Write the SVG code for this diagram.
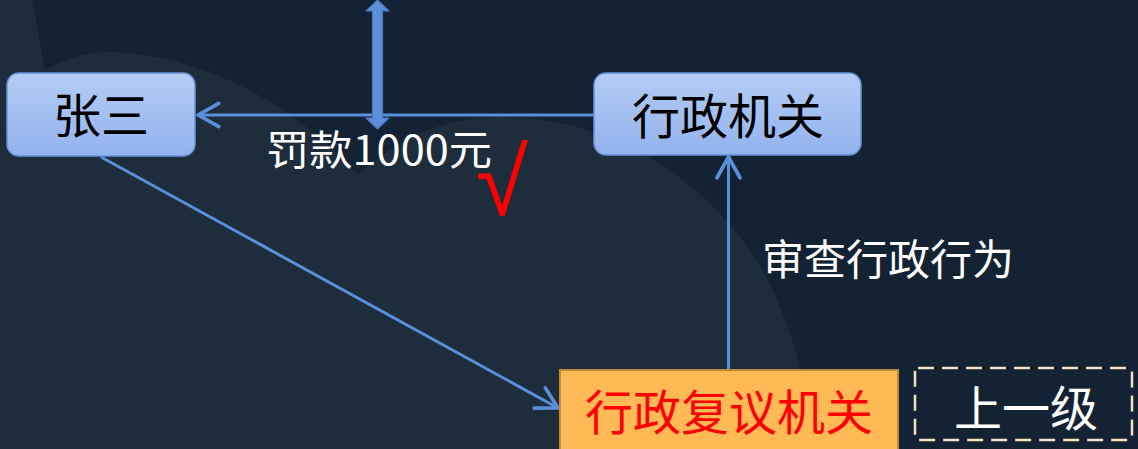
<svg xmlns="http://www.w3.org/2000/svg" width="1138" height="449" viewBox="0 0 1138 449">
<defs>
<style>
.cjk{font-family:"Noto Sans CJK SC","Noto Sans",sans-serif;}
.node rect.blue{fill:url(#gBlue);stroke:#6892d8;stroke-width:1.5;}
.lbl{fill:#ffffff;}
.conn{fill:none;stroke:#5a8fdc;stroke-width:3;}
</style>
<linearGradient id="gBlue" x1="0" y1="0" x2="0" y2="1">
<stop offset="0" stop-color="#b4ccf5"/>
<stop offset="1" stop-color="#93b3ee"/>
</linearGradient>
<marker id="arr" markerUnits="userSpaceOnUse" markerWidth="30" markerHeight="30" viewBox="-22 -13 26 26" refX="0" refY="0" orient="auto">
<path d="M-18,-10 L0,0 L-18,10" fill="none" stroke="#5a8fdc" stroke-width="3.2" stroke-linecap="round" stroke-linejoin="round"/>
</marker>
</defs>
<rect x="0" y="0" width="1138" height="449" fill="#132333"/>
<path d="M0,0 L32,0 C37,25 41,48 45,70 C68,57 88,52 112,52 C200,55 290,100 358,175 C398,136 450,117 500,117 C620,117 720,190 768,280 C793,330 808,390 815,449 L0,449 Z" fill="#1d2d3b"/>

<g id="connectors">
<line class="conn" x1="594" y1="115" x2="198" y2="115" marker-end="url(#arr)"/>
<line class="conn" x1="101" y1="157" x2="558" y2="408" marker-end="url(#arr)"/>
<line class="conn" x1="728.5" y1="370" x2="728.5" y2="157" marker-end="url(#arr)"/>
<polygon points="377.5,0 389,11 382.5,11 382.5,118 389,118 377.5,129 366,118 372.5,118 372.5,11 366,11" fill="#5b8fd9" stroke="#4a78c0" stroke-width="1.2" stroke-linejoin="round"/>
</g>

<g id="node-zhangsan" class="node">
<rect class="blue" x="7" y="73" width="188" height="83" rx="12"/>
<text class="cjk" x="101" y="133" font-size="48" text-anchor="middle" fill="#000">张三</text>
</g>

<g id="node-xingzhengjiguan" class="node">
<rect class="blue" x="594" y="73" width="267" height="82" rx="12"/>
<text class="cjk" x="728" y="134" font-size="48" text-anchor="middle" fill="#000">行政机关</text>
</g>

<g id="node-fuyi" class="node">
<rect x="560" y="370" width="338" height="90" fill="#ffb955" stroke="#c3893b" stroke-width="2"/>
<text class="cjk" x="729" y="430" font-size="48" text-anchor="middle" fill="#ff0000">行政复议机关</text>
</g>

<g id="node-shangyiji" class="node">
<rect x="915" y="368" width="217" height="72" rx="3" fill="none" stroke="#f2e2cc" stroke-width="2.5" stroke-dasharray="16 8"/>
<text class="cjk lbl" x="1026" y="426" font-size="48" text-anchor="middle">上一级</text>
</g>

<g id="labels">
<text class="cjk lbl" x="266" y="165" font-size="41" textLength="226" lengthAdjust="spacingAndGlyphs">罚款1000元</text>
<text class="cjk lbl" x="762" y="275" font-size="42">审查行政行为</text>
<text x="476" y="215" font-family="Liberation Sans" font-size="95" fill="#ff0000">√</text>
</g>
</svg>
